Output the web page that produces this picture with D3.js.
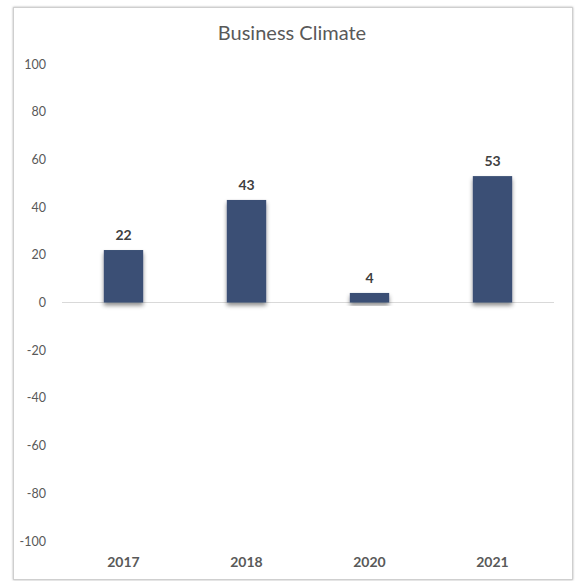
<!DOCTYPE html>
<html>
<head>
<meta charset="utf-8">
<script src="https://cdn.jsdelivr.net/npm/d3@7"></script>
<style>
  html, body { margin: 0; padding: 0; background: #fff; }
  svg { display: block; font-family: Lato, "Open Sans", sans-serif; }
</style>
</head>
<body>
<svg id="chart" width="576" height="581"></svg>
<script>
// Business climate index by year
const years = ["2017", "2018", "2020", "2021"];
const climate = [22, 43, 4, 53];
const yTicks = [-100, -80, -60, -40, -20, 0, 20, 40, 60, 80, 100];
const title = "Business Climate";

const svg = d3.select("#chart");

// soft shadow for the chart frame and bars
const defs = svg.append("defs");
const fs = defs.append("filter").attr("id", "frameShadow")
  .attr("x", "-5%").attr("y", "-5%").attr("width", "110%").attr("height", "110%");
fs.append("feDropShadow").attr("dx", 0).attr("dy", 0).attr("stdDeviation", 1.2)
  .attr("flood-color", "#000").attr("flood-opacity", 0.3);

const f = defs.append("filter").attr("id", "shadow")
  .attr("x", "-30%").attr("y", "-30%").attr("width", "160%").attr("height", "160%");
f.append("feDropShadow").attr("dx", 0).attr("dy", 3).attr("stdDeviation", 2)
  .attr("flood-color", "#000").attr("flood-opacity", 0.45);

// chart frame
svg.append("rect")
  .attr("x", 13.5).attr("y", 7.5)
  .attr("width", 559).attr("height", 572)
  .attr("fill", "#fff").attr("stroke", "#cfcfcf").attr("stroke-width", 1)
  .attr("filter", "url(#frameShadow)");

const plot = { left: 62, right: 554, top: 64, bottom: 541 };

const x = d3.scaleBand().domain(years)
  .range([plot.left, plot.right]).paddingInner(0.68).paddingOuter(0.34);
const y = d3.scaleLinear().domain([-100, 100]).range([plot.bottom, plot.top]);

// title
svg.append("text").attr("x", 292).attr("y", 40)
  .attr("text-anchor", "middle").attr("font-size", 20)
  .attr("fill", "#595959").text(title);

// y axis labels
const yAxis = d3.axisLeft(y).tickValues(yTicks).tickSize(0).tickPadding(0)
  .tickFormat(d => String(d));
const ga = svg.append("g").attr("transform", `translate(${46},0)`).call(yAxis);
ga.select(".domain").remove();
ga.selectAll("text").attr("font-size", 12.5).attr("fill", "#595959")
  .attr("font-family", "Lato, 'Open Sans', sans-serif");

// zero line
svg.append("line")
  .attr("x1", plot.left).attr("x2", plot.right)
  .attr("y1", y(0)).attr("y2", y(0))
  .attr("stroke", "#d9d9d9").attr("stroke-width", 1);

// bars
svg.append("g").selectAll("rect").data(climate).join("rect")
  .attr("x", (d, i) => x(years[i]))
  .attr("width", x.bandwidth())
  .attr("y", d => y(Math.max(0, d)))
  .attr("height", d => Math.abs(y(d) - y(0)))
  .attr("fill", "#3a4f75")
  .attr("filter", "url(#shadow)");

// value labels
svg.append("g").selectAll("text").data(climate).join("text")
  .attr("x", (d, i) => x(years[i]) + x.bandwidth() / 2)
  .attr("y", d => y(d) - 10)
  .attr("text-anchor", "middle").attr("font-size", 14).attr("font-weight", "bold")
  .attr("fill", "#404040").text(d => d);

// category labels
svg.append("g").selectAll("text").data(years).join("text")
  .attr("x", d => x(d) + x.bandwidth() / 2)
  .attr("y", 567)
  .attr("text-anchor", "middle").attr("font-size", 14).attr("font-weight", "bold")
  .attr("fill", "#595959").text(d => d);
</script>
</body>
</html>
